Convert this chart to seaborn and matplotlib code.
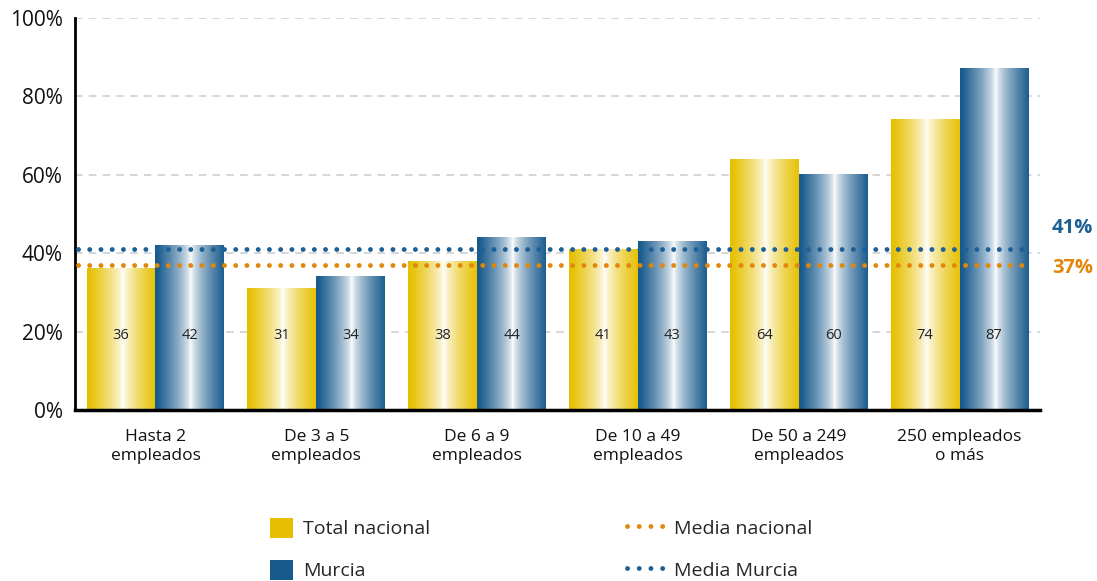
import matplotlib
matplotlib.use("Agg")
import matplotlib.pyplot as plt
import numpy as np
import pandas as pd
import seaborn as sns
from matplotlib.colors import to_rgb
from matplotlib.lines import Line2D
from matplotlib.patches import Patch

# Datos
categorias = [
    "Hasta 2\nempleados",
    "De 3 a 5\nempleados",
    "De 6 a 9\nempleados",
    "De 10 a 49\nempleados",
    "De 50 a 249\nempleados",
    "250 empleados\no más",
]
total_nacional = [36, 31, 38, 41, 64, 74]
murcia = [42, 34, 44, 43, 60, 87]
media_nacional = 37
media_murcia = 41
series = ["Total nacional", "Murcia"]

AMARILLO = "#e6c000"
AZUL = "#175a8c"
NARANJA = "#e0870c"
AZUL_MEDIA = "#1c6096"

sns.set_theme(style="white")
plt.rcParams["font.family"] = ["Open Sans", "DejaVu Sans"]

df = pd.DataFrame({
    "categoria": categorias * 2,
    "serie": [series[0]] * len(categorias) + [series[1]] * len(categorias),
    "valor": total_nacional + murcia,
})

fig = plt.figure(figsize=(10.97, 5.81), dpi=100)
ax = fig.add_axes([0.0684, 0.2943, 0.8796, 0.6747])

sns.barplot(data=df, x="categoria", y="valor", hue="serie", hue_order=series,
            palette=[AMARILLO, AZUL], width=0.857, gap=0, saturation=1,
            legend=False, ax=ax)

# degradado horizontal dentro de cada barra
xs = np.linspace(0, 1, 80)
peso = np.clip(np.abs(xs - 0.52) / 0.5, 0, 1) ** 0.7
for bar in list(ax.patches):
    base = np.array(to_rgb(bar.get_facecolor()))
    grad = (1 - peso)[:, None] * np.ones(3) + peso[:, None] * base
    x0, w, h = bar.get_x(), bar.get_width(), bar.get_height()
    ax.imshow(grad[None, :, :], extent=[x0, x0 + w, 0, h], aspect="auto",
              interpolation="bilinear", zorder=2)
    bar.set_facecolor("none")
    bar.set_edgecolor("none")

# etiquetas de valores
for i, (a, b) in enumerate(zip(total_nacional, murcia)):
    ax.text(i - 0.857 / 4, 19, f"{a}", ha="center", va="center", fontsize=10.5, color="#222222", zorder=5)
    ax.text(i + 0.857 / 4, 19, f"{b}", ha="center", va="center", fontsize=10.5, color="#222222", zorder=5)

# medias
ax.axhline(media_murcia, xmin=0.003, xmax=0.99, color=AZUL_MEDIA, lw=3.5,
           dashes=(0.01, 2.3), dash_capstyle="round", zorder=4)
ax.axhline(media_nacional, xmin=0.003, xmax=0.99, color=NARANJA, lw=3.5,
           dashes=(0.01, 2.3), dash_capstyle="round", zorder=4)
ax.annotate(f"{media_murcia}%", xy=(1, media_murcia), xycoords=("axes fraction", "data"),
            xytext=(8.5, 15), textcoords="offset points", ha="left", va="center",
            fontsize=14.5, fontweight="bold", color=AZUL_MEDIA, annotation_clip=False)
ax.annotate(f"{media_nacional}%", xy=(1, media_nacional), xycoords=("axes fraction", "data"),
            xytext=(8.5, -2), textcoords="offset points", ha="left", va="center",
            fontsize=14.5, fontweight="bold", color=NARANJA, annotation_clip=False)

ax.set_xlim(-0.5, len(categorias) - 0.5)
ax.set_ylim(0, 100)
ax.set_yticks(range(0, 101, 20))
ax.set_yticklabels([f"{v}%" for v in range(0, 101, 20)])
ax.yaxis.grid(True, color="#cccccc", lw=1.1, dashes=(5, 4))
ax.set_axisbelow(True)
ax.tick_params(axis="y", length=0, pad=9, labelsize=15, labelcolor="#111111")
ax.tick_params(axis="x", length=0, pad=14, labelsize=12.5, labelcolor="#111111")
ax.set_xlabel("")
ax.set_ylabel("")
for side in ["top", "right"]:
    ax.spines[side].set_visible(False)
ax.spines["left"].set_color("black")
ax.spines["left"].set_linewidth(2)
ax.spines["bottom"].set_color("black")
ax.spines["bottom"].set_linewidth(2.5)

# leyendas
h_barras = [Patch(facecolor=AMARILLO, edgecolor="none"), Patch(facecolor=AZUL, edgecolor="none")]
fig.legend(h_barras, series, loc="upper left", bbox_to_anchor=(0.246, 0.109),
           frameon=False, fontsize=14, handlelength=1.2, handleheight=1.2,
           handletextpad=0.5, labelspacing=1.1, borderpad=0, borderaxespad=0)
h_medias = [
    Line2D([], [], color=NARANJA, lw=3.5, dashes=(0.01, 2.4), dash_capstyle="round"),
    Line2D([], [], color=AZUL_MEDIA, lw=3.5, dashes=(0.01, 2.4), dash_capstyle="round"),
]
fig.legend(h_medias, ["Media nacional", "Media Murcia"], loc="upper left",
           bbox_to_anchor=(0.5715, 0.109), frameon=False, fontsize=14, handlelength=1.9,
           handleheight=1.2, handletextpad=0.5, labelspacing=1.1, borderpad=0, borderaxespad=0)

fig.savefig("out.png", dpi=100)
